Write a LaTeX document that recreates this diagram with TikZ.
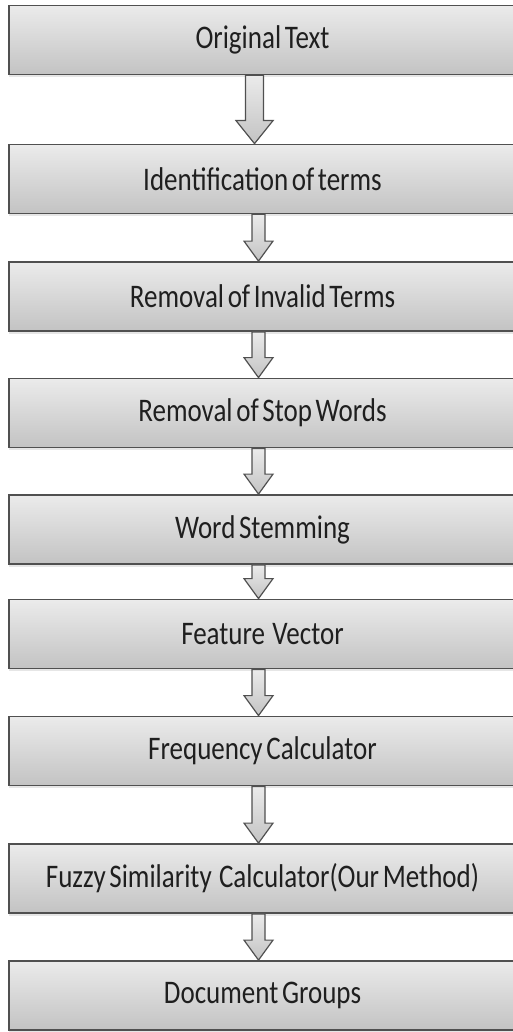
\documentclass[tikz,border=0pt]{standalone}
\usepackage{fontspec}
\setmainfont{Carlito}[WordSpace=0.6]
\usetikzlibrary{calc, shadows}
\definecolor{boxtop}{HTML}{EBEBEB}
\definecolor{boxbot}{HTML}{C3C3C3}
\definecolor{boxedge}{HTML}{505050}
\newcommand{\tallText}[1]{\scalebox{1}[1.22]{#1}}

\begin{document}
\begin{tikzpicture}[x=1pt, y=-1pt,
  stage/.style={rectangle, draw=boxedge, line width=1.8pt, top color=boxtop,
                bottom color=boxbot, minimum width=507pt, minimum height=69pt,
                inner sep=0pt, font=\fontsize{27}{32}\selectfont, text=black!88,
                drop shadow={shadow xshift=0pt, shadow yshift=-2.5pt, opacity=0.2}},
  flow/.style={draw=boxedge, line width=1.2pt, top color=boxtop,
               bottom color=boxbot, line join=miter},
]
\useasboundingbox (0,0) rectangle (513,1032);
\node[stage] (orig)    at (262.5,40)    {\tallText{Original Text}};
\node[stage] (ident)   at (262.5,179)   {\tallText{Identification of terms}};
\node[stage] (invalid) at (262.5,296.5) {\tallText{Removal of Invalid Terms}};
\node[stage] (stopw)   at (262.5,413)   {\tallText{Removal of Stop Words}};
\node[stage] (stem)    at (262.5,529.5) {\tallText{Word Stemming}};
\node[stage] (feat)    at (262.5,634)   {\tallText{Feature\ \ Vector}};
\node[stage] (freq)    at (262.5,751)   {\tallText{Frequency Calculator}};
\node[stage] (fuzzy)   at (262.5,878.5) {\tallText{Fuzzy Similarity\ \ Calculator(Our Method)}};
\node[stage] (groups)  at (262.5,995.5) {\tallText{Document Groups}};
% hollow block arrows between the stages
\foreach \a/\b/\dx/\sw/\hw/\hl in {orig/ident/-8/9/18.5/23, ident/invalid/-4/6.5/14.5/20,
    invalid/stopw/-4/6.5/14.5/20, stopw/stem/-4/6.5/14.5/20, stem/feat/-4/6.5/14.5/20,
    feat/freq/-4/6.5/14.5/20, freq/fuzzy/-4/6.5/14.5/20, fuzzy/groups/-4/6.5/14.5/20}
  \path[flow] let \p1=($(\a.south)+(\dx pt,0)$), \p2=(\b.north) in
    ({\x1-\sw pt},\y1) -- ({\x1+\sw pt},\y1) -- ({\x1+\sw pt},{\y2+\hl pt})
    -- ({\x1+\hw pt},{\y2+\hl pt}) -- (\x1,\y2) -- ({\x1-\hw pt},{\y2+\hl pt})
    -- ({\x1-\sw pt},{\y2+\hl pt}) -- cycle;
\end{tikzpicture}
\end{document}
